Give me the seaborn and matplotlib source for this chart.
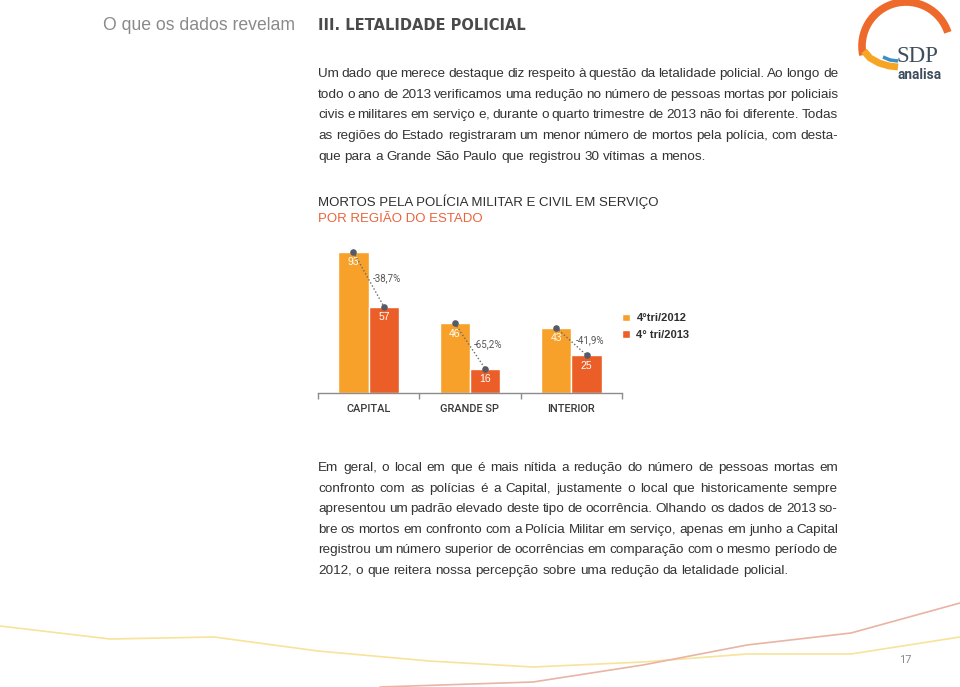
import matplotlib
matplotlib.use("Agg")
import matplotlib.pyplot as plt
from matplotlib.patches import Arc
import seaborn as sns
import pandas as pd

# dados do gráfico
regioes = ["CAPITAL", "GRANDE SP", "INTERIOR"]
tri_2012 = [93, 46, 43]
tri_2013 = [57, 16, 25]
variacao = ["-38,7%", "-65,2%", "-41,9%"]
periodos = ["4°tri/2012", "4° tri/2013"]
cores = ["#F7A12B", "#EB5E28"]

# textos da página
cabecalho = "O que os dados revelam"
secao = "III. LETALIDADE POLICIAL"
titulo = "MORTOS PELA POLÍCIA MILITAR E CIVIL EM SERVIÇO"
subtitulo = "POR REGIÃO DO ESTADO"
paragrafo1 = [
    "Um dado que merece destaque diz respeito à questão da letalidade policial. Ao longo de",
    "todo o ano de 2013 verificamos uma redução no número de pessoas mortas por policiais",
    "civis e militares em serviço e, durante o quarto trimestre de 2013 não foi diferente. Todas",
    "as regiões do Estado registraram um menor número de mortos pela polícia, com desta-",
    "que para a Grande São Paulo que registrou 30 vítimas a menos.",
]
paragrafo2 = [
    "Em geral, o local em que é mais nítida a redução do número de pessoas mortas em",
    "confronto com as polícias é a Capital, justamente o local que historicamente sempre",
    "apresentou um padrão elevado deste tipo de ocorrência. Olhando os dados de 2013 so-",
    "bre os mortos em confronto com a Polícia Militar em serviço, apenas em junho a Capital",
    "registrou um número superior de ocorrências em comparação com o mesmo período de",
    "2012, o que reitera nossa percepção sobre uma redução da letalidade policial.",
]
pagina = "17"

sns.set_theme(style="white")
plt.rcParams["font.family"] = ["Liberation Sans", "DejaVu Sans"]
COND = ["Roboto", "DejaVu Sans"]

fig = plt.figure(figsize=(9.6, 6.87), dpi=100)
fig.patch.set_facecolor("white")

# eixo de fundo em pixels, para os textos da página
pg = fig.add_axes([0, 0, 1, 1])
pg.set_xlim(0, 960)
pg.set_ylim(687, 0)
pg.axis("off")

renderer = fig.canvas.get_renderer()
DESC = set("gjpqyçQ")


def justificar(linhas, y0, passo, x0=318, x1=838, size=9.7, color="#333333"):
    # texto justificado palavra por palavra, como no relatório
    for i, linha in enumerate(linhas):
        y = round(y0 + i * passo) + 4  # linha de base em pixel inteiro
        palavras = linha.split()
        grupos = []
        for p in palavras:
            # vírgula isolada quando a palavra não tem descendente (evita salto na linha de base)
            if p.endswith(",") and not DESC & set(p):
                partes = [p[:-1], ","]
            else:
                partes = [p]
            objs = [pg.text(0, y, s, fontsize=size, color=color, va="baseline", ha="left",
                            family="Liberation Sans") for s in partes]
            larg = [t.get_window_extent(renderer).width for t in objs]
            grupos.append((objs, larg))
        total = sum(sum(l) for _, l in grupos)
        if i == len(linhas) - 1:
            gap = size * 0.278 * 100 / 72
        else:
            gap = (x1 - x0 - total) / (len(grupos) - 1)
        x = x0
        for objs, larg in grupos:
            for t, w in zip(objs, larg):
                t.set_x(x)
                x += w
            x += gap


pg.text(103, 25, cabecalho, fontsize=12.7, color="#8a8a8a", va="center")
pg.text(318, 26, secao, fontsize=10.5, color="#4a4a4a", weight="bold", va="center",
        family="DejaVu Sans")
justificar(paragrafo1, 73, 20.7)
justificar(paragrafo2, 467, 20.6)
pg.text(318, 202, titulo, fontsize=9.5, color="#2e2e2e", va="center")
pg.text(318, 219, subtitulo, fontsize=9.5, color="#E8643A", va="center")
pg.text(905, 660, pagina, fontsize=8, color="#8a8a8a", va="center", ha="center", family=COND)

# linhas decorativas do rodapé
pg.plot([0, 110, 214, 318, 429, 533, 643, 747, 851, 960],
        [626, 639, 637, 651, 661, 667, 662, 654, 654, 637], color="#F7E39A", lw=1.2)
pg.plot([380, 533, 643, 747, 851, 960],
        [687, 682, 665, 645, 633, 603], color="#E9B4A4", lw=1.2)

# logotipo
pg.add_patch(Arc((906, 46), 88, 88, theta1=168, theta2=342, color="#EE6A2C", lw=5.5))
pg.plot([864, 870, 879, 889, 898], [51, 58, 63, 66, 67], color="#F6A623", lw=5,
        solid_capstyle="butt")
pg.plot([883, 890, 898], [57, 60, 61], color="#3A8FC8", lw=2.5, solid_capstyle="butt")
pg.text(896, 62, "SDP", fontsize=16.5, family="Liberation Serif", color="#3D4D5C", va="baseline")
pg.text(897, 79, "analisa", fontsize=9.8, family=COND, weight="bold", color="#3D4D5C",
        va="baseline")

# gráfico de barras
df = pd.DataFrame({
    "regiao": regioes * 2,
    "periodo": [periodos[0]] * 3 + [periodos[1]] * 3,
    "mortos": tri_2012 + tri_2013,
})

ax = fig.add_axes([318 / 960, (687 - 393) / 687, 304 / 960, 151.6 / 687])
ax.set_facecolor("none")
sns.barplot(data=df, x="regiao", y="mortos", hue="periodo", palette=cores,
            width=0.6, gap=0, saturation=1, ax=ax, legend=True)
ax.set_xlim(-0.5, 2.5)
ax.set_ylim(0, 100)
ax.set_xlabel("")
ax.set_ylabel("")
ax.set_yticks([])
sns.despine(ax=ax, left=True)
ax.spines["bottom"].set_color("#8c8c8c")
ax.spines["bottom"].set_linewidth(1)
ax.set_xticks([-0.5, 0.5, 1.5, 2.5], minor=True)
ax.tick_params(axis="x", which="minor", bottom=True, length=4, width=1,
               color="#8c8c8c", direction="out")
ax.tick_params(axis="x", which="major", length=0, pad=8)
for lab in ax.get_xticklabels():
    lab.set_fontfamily(COND)
    lab.set_fontsize(7.9)
    lab.set_fontweight("medium")
    lab.set_color("#3a3a3a")

barras_a, barras_b = ax.containers[0], ax.containers[1]
for cont in (barras_a, barras_b):
    for b in cont:
        xc = b.get_x() + b.get_width() / 2
        ax.annotate(f"{b.get_height():.0f}", (xc, b.get_height()), xytext=(0, -7.5),
                    textcoords="offset points", ha="center", va="center",
                    color="white", fontsize=7.5)

for ba, bb, txt in zip(barras_a, barras_b, variacao):
    xa, ya = ba.get_x() + ba.get_width() / 2, ba.get_height()
    xb, yb = bb.get_x() + bb.get_width() / 2, bb.get_height()
    ax.plot([xa, xb], [ya, yb], ls=(0, (1, 1.5)), color="#6a6a6a", lw=1, zorder=4)
    ax.scatter([xa, xb], [ya, yb], s=14, color="#555b66", zorder=5)
    ax.annotate(txt, ((xa + xb) / 2, (ya + yb) / 2), xytext=(3, 1),
                textcoords="offset points", ha="left", va="center",
                color="#555555", fontsize=7, family=COND)

ax.legend(loc="upper left", bbox_to_anchor=(1.0, 0.525), frameon=False,
          handlelength=0.7, handleheight=0.7, handletextpad=0.6, labelspacing=0.55,
          prop={"size": 8, "weight": "bold"}, labelcolor="#2e2e2e",
          borderaxespad=0, borderpad=0)

fig.savefig("out.png", dpi=100, facecolor="white")
